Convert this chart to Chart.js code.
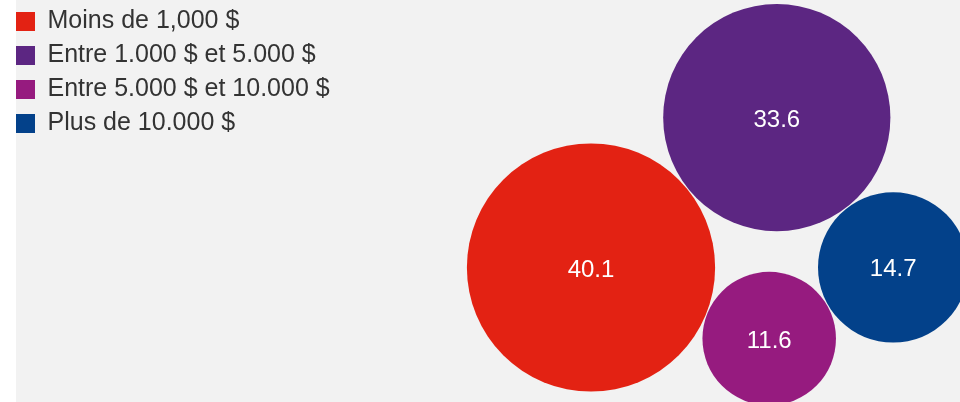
<!DOCTYPE html>
<html>
<head>
<meta charset="utf-8">
<script src="https://cdn.jsdelivr.net/npm/chart.js@4"></script>
<style>
  body { margin: 0; background: #ffffff; }
  #panel { position: absolute; left: 16px; top: 0; width: 944px; height: 402px; background: #f2f2f2; }
  #wrap { position: absolute; left: 7px; top: 0; width: 953px; height: 402px; }
</style>
</head>
<body>
<div id="panel"></div>
<div id="wrap"><canvas id="my-chart"></canvas></div>
<script>
'use strict';

//Data
let categories = ['Moins de 1,000 $', 'Entre 1.000 $ et 5.000 $', 'Entre 5.000 $ et 10.000 $', 'Plus de 10.000 $'];
let shares = [40.1, 33.6, 11.6, 14.7];
let colors = ['#e32213', '#5c2682', '#961b7f', '#03418a'];

//Packing layout: bubble area follows the share
let pxPerRoot = 19.6;
let gap = 1;
let anchor = { x: 584, y: 267.5 };
let angleSecond = -38.9 * Math.PI / 180;
let angleThird = 21.75 * Math.PI / 180;

const ctx = document.getElementById('my-chart').getContext('2d');

function radiusOf(value) {
  return pxPerRoot * Math.sqrt(value);
}

//place a circle touching another one at a given angle
function touching(center, r1, r2, angle) {
  let d = r1 + r2 + gap;
  return { x: center.x + d * Math.cos(angle), y: center.y + d * Math.sin(angle) };
}

//place a circle touching two others (outer side of the a -> b line)
function touchingBoth(a, ra, b, rb, r) {
  let d1 = ra + r + gap;
  let d2 = rb + r + gap;
  let dx = b.x - a.x;
  let dy = b.y - a.y;
  let dist = Math.sqrt(dx * dx + dy * dy);
  let along = (d1 * d1 - d2 * d2 + dist * dist) / (2 * dist);
  let h = Math.sqrt(Math.max(0, d1 * d1 - along * along));
  let ux = dx / dist;
  let uy = dy / dist;
  return { x: a.x + along * ux + h * uy, y: a.y + along * uy - h * ux };
}

let radii = shares.map(radiusOf);
let centers = [];
centers[0] = anchor;
centers[1] = touching(centers[0], radii[0], radii[1], angleSecond);
centers[2] = touching(centers[0], radii[0], radii[2], angleThird);
centers[3] = touchingBoth(centers[1], radii[1], centers[2], radii[2], radii[3]);

let datasets = [];
for (let i = 0; i < categories.length; i++) {
  datasets.push({
    label: categories[i],
    data: [{ x: centers[i].x, y: centers[i].y, r: radii[i], v: shares[i] }],
    backgroundColor: colors[i],
    borderWidth: 0,
    hoverBorderWidth: 0,
    clip: false
  });
}

//value written in the middle of each bubble
const bubbleLabels = {
  id: 'bubbleLabels',
  afterDatasetsDraw(chart) {
    let c = chart.ctx;
    c.save();
    c.fillStyle = '#ffffff';
    c.font = '24px "Liberation Sans", Arial, sans-serif';
    c.textAlign = 'center';
    c.textBaseline = 'alphabetic';
    chart.data.datasets.forEach((ds, i) => {
      let el = chart.getDatasetMeta(i).data[0];
      c.fillText(ds.data[0].v.toFixed(1), el.x, el.y + 9);
    });
    c.restore();
  }
};

const myChart = new Chart(ctx, {
  type: 'bubble',
  data: { datasets: datasets },
  options: {
    responsive: true,
    maintainAspectRatio: false,
    animation: false,
    layout: { padding: 0, autoPadding: false },
    scales: {
      x: { display: false, min: 0, max: 953 },
      y: { display: false, min: 0, max: 402, reverse: true }
    },
    plugins: {
      tooltip: { enabled: false },
      legend: {
        position: 'chartArea',
        align: 'start',
        labels: {
          boxWidth: 19,
          boxHeight: 19,
          padding: 9,
          color: '#333333',
          font: { family: '"Liberation Sans", Arial, sans-serif', size: 25 }
        }
      }
    }
  },
  plugins: [bubbleLabels]
});
</script>
</body>
</html>
